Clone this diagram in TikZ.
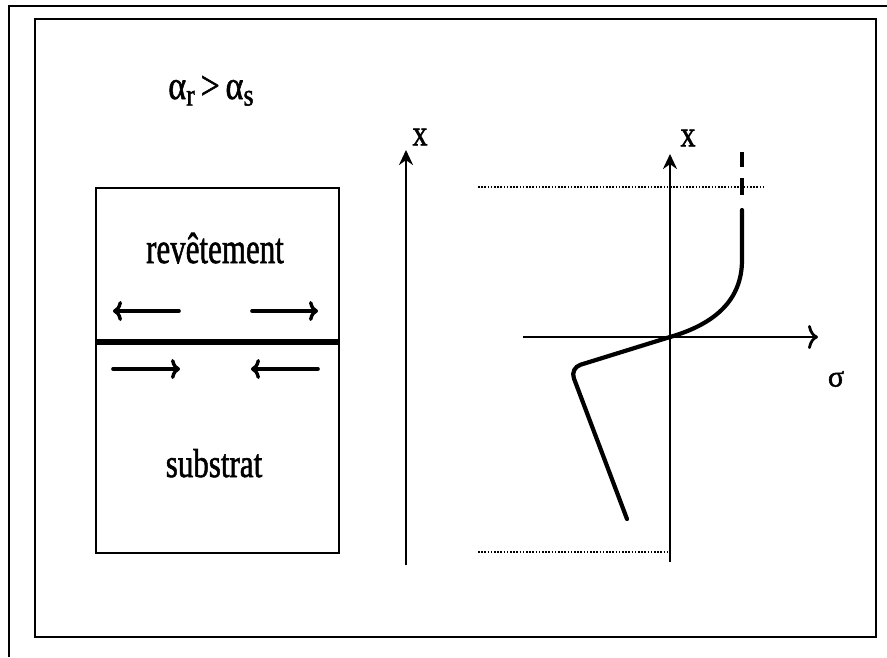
\documentclass[tikz,border=0pt]{standalone}
\usepackage{fontspec}
\setmainfont{Liberation Serif}[FakeBold=1.5]
\usetikzlibrary{arrows.meta}
\begin{document}
\begin{tikzpicture}[x=1pt,y=-1pt,
  frame/.style={line width=2.2pt},
  axis/.style={line width=2.6pt},
  stressarrow/.style={line width=3.6pt,line cap=round,-{To[length=9pt,width=20pt,line width=3.4pt]}},
  vaxis/.style={axis,-{Stealth[length=15pt,width=14pt]}},
  haxis/.style={axis,-{To[length=10pt,width=24pt,line width=2.8pt]}},
  dotline/.style={line width=2pt,dash pattern=on 1.6pt off 1.6pt},
  curve/.style={line width=4.2pt,line cap=round,line join=round},
  lbl/.style={inner sep=0pt,font=\fontsize{31}{31}\selectfont},
  axlbl/.style={inner sep=0pt,font=\fontsize{30}{30}\selectfont}]
\useasboundingbox (0,0) rectangle (887,657);
% outer partial frame
\coordinate (o1) at (9,657);
\coordinate (o2) at (9,6);
\coordinate (o3) at (887,6);
\draw[frame] (o1) -- (o2) -- (o3);
% inner frame
\node[draw,frame,minimum width=841pt,minimum height=618pt,inner sep=0pt] (frame) at (455.5,328) {};
% title
\node[lbl,anchor=base] (title) at (211,99) {\scalebox{1.1}[1.3]{α\raisebox{-5pt}{\fontsize{24}{24}\selectfont r}\,>\,α\raisebox{-5pt}{\fontsize{24}{24}\selectfont s}}};
% sample box
\node[draw,line width=2.8pt,minimum width=243pt,minimum height=365pt,inner sep=0pt] (box) at (217.5,370.5) {};
\coordinate (il) at (96,342);
\coordinate (ir) at (339,342);
\draw[line width=6.5pt] (il) -- (ir);
\node[lbl,anchor=base] (rev) at (215,263) {\scalebox{1}[1.4]{revêtement}};
\node[lbl,anchor=base] (sub) at (214,477) {\scalebox{1}[1.3]{substrat}};
% stress arrows
\coordinate (a1s) at (179,311); \coordinate (a1e) at (113,311);
\coordinate (a2s) at (252,311); \coordinate (a2e) at (318,311);
\coordinate (a3s) at (113,369); \coordinate (a3e) at (180,369);
\coordinate (a4s) at (318,369); \coordinate (a4e) at (251,369);
\draw[stressarrow] (a1s) -- (a1e);
\draw[stressarrow] (a2s) -- (a2e);
\draw[stressarrow] (a3s) -- (a3e);
\draw[stressarrow] (a4s) -- (a4e);
% middle x axis
\coordinate (m0) at (406,565);
\coordinate (m1) at (406,150);
\draw[vaxis] (m0) -- (m1);
\node[axlbl] (mx) at (420,137) {\scalebox{1}[1.2]{x}};
% right graph axes
\coordinate (v0) at (670,562);
\coordinate (v1) at (670,154);
\draw[vaxis] (v0) -- (v1);
\node[axlbl] (vx) at (688,138) {\scalebox{1}[1.2]{x}};
\coordinate (h0) at (523,337);
\coordinate (h1) at (818,337);
\draw[haxis] (h0) -- (h1);
\node[axlbl] (sig) at (836,379) {σ};
% dotted lines
\coordinate (d1a) at (478,187); \coordinate (d1b) at (764,187);
\coordinate (d2a) at (478,552); \coordinate (d2b) at (670,552);
\draw[dotline] (d1a) -- (d1b);
\draw[dotline] (d2a) -- (d2b);
% dashed top of curve
\coordinate (k1) at (742,152); \coordinate (k2) at (742,167);
\coordinate (k3) at (742,178); \coordinate (k4) at (742,195);
\draw[curve,line cap=butt] (k1) -- (k2);
\draw[curve,line cap=butt] (k3) -- (k4);
% stress profile
\coordinate (c0) at (742,210);
\coordinate (c1) at (742,260);
\coordinate (org) at (670,337);
\coordinate (cc) at (570,368);
\coordinate (cend) at (627,519);
\draw[curve] (c0) -- (c1) .. controls (742,300) and (715,324) .. (org);
\draw[curve,rounded corners=11pt] (org) -- (cc) -- (cend);
\end{tikzpicture}
\end{document}
